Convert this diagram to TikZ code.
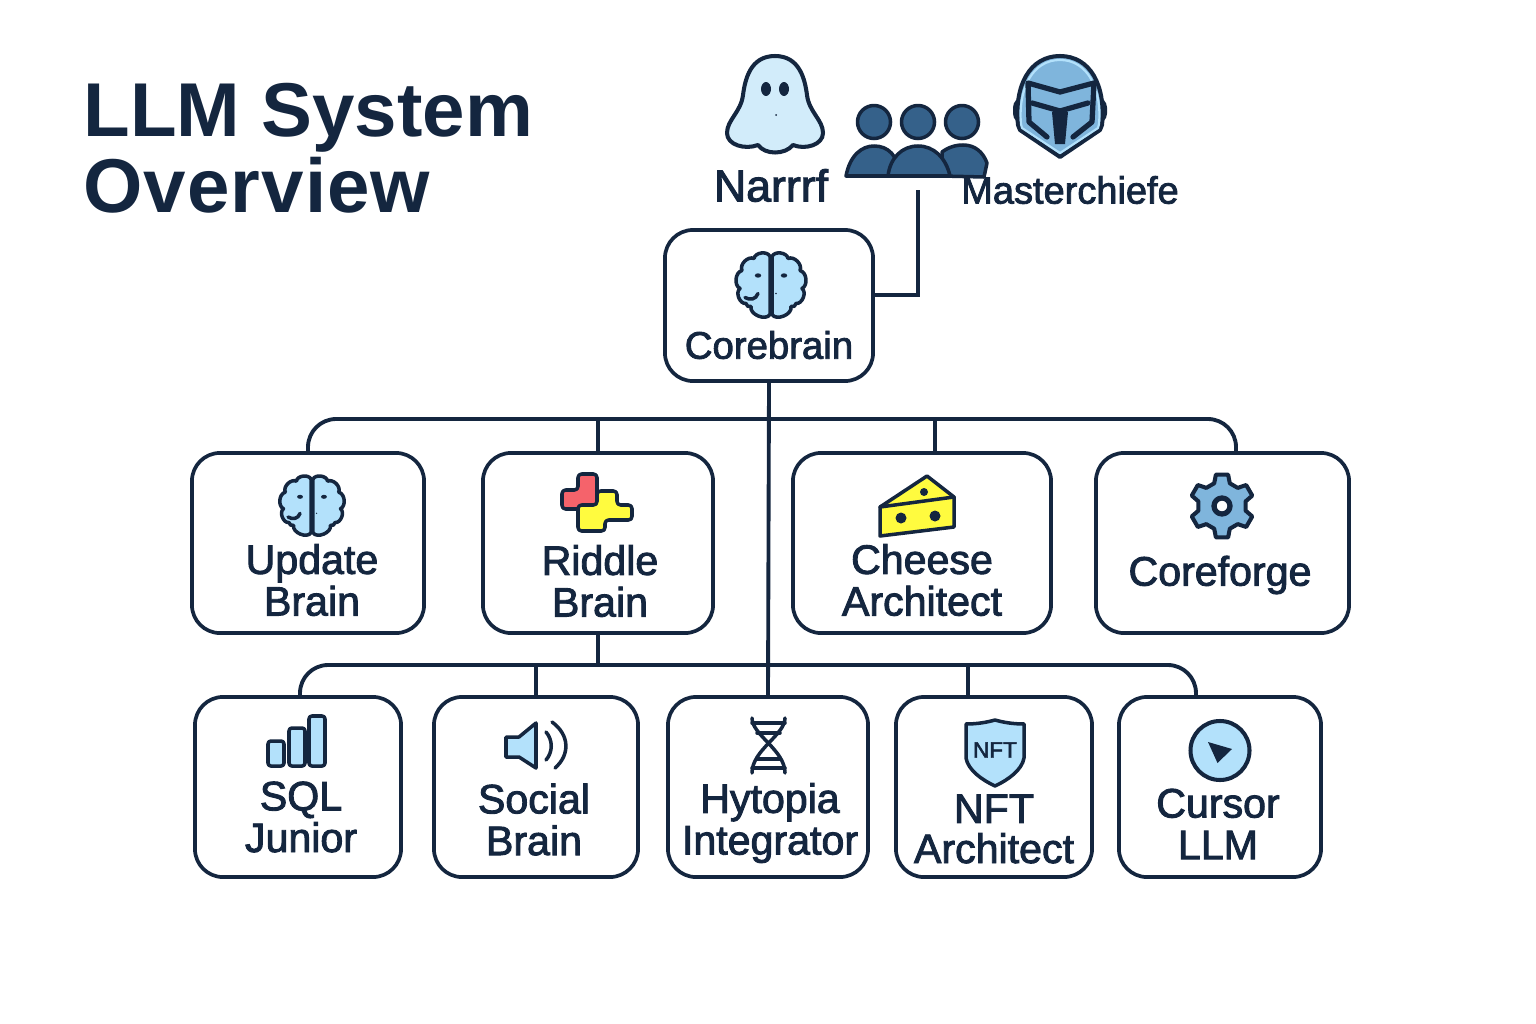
\documentclass[tikz,border=0pt]{standalone}
\usepackage{fontspec}
\setmainfont{Liberation Sans}
\newfontfamily\labelfont[FakeBold=2.2]{Liberation Sans}
\definecolor{navy}{HTML}{14263F}
\definecolor{skyfill}{HTML}{B3E1FB}
\definecolor{ghostfill}{HTML}{D2ECFA}
\definecolor{steelfill}{HTML}{7FB5DC}
\definecolor{teamfill}{HTML}{35618A}
\definecolor{cheesefill}{HTML}{FFFB3F}
\definecolor{puzzlefill}{HTML}{F5636B}
\newcommand{\brainhalf}{
    \draw[icon, fill=skyfill] (-1,-29) to[bend right=75] (-17,-27) to[bend right=70] (-29,-15) to[bend right=70] (-31,3)
        to[bend right=75] (-25,18) to[bend right=60] (-20,21) to[bend right=80] (-1,29) -- cycle;
    \fill[navy] (-13,-10) ellipse [x radius=3.2, y radius=2.2];
}
\tikzset{
    card/.style={draw=navy, line width=1.05pt, rounded corners=8pt, inner sep=0pt},
    cardtext/.style={text=navy, align=center, inner sep=0pt, font=\labelfont\fontsize{11.7}{11.85}\selectfont},
    wire/.style={draw=navy, line width=1.1pt},
    icon/.style={draw=navy, line width=1pt, line join=round, line cap=round},
    brainicon/.pic={
        \brainhalf
        \draw[icon] (-26,12) .. controls (-21,15) and (-15,14) .. (-13,8);
        \begin{scope}[xscale=-1]
            \brainhalf
        \end{scope}
        \fill[navy] (-5,-1) ++(10,9) circle (0.8);
    }
}

\begin{document}
\begin{tikzpicture}[x=0.01cm, y=-0.01cm]
    \useasboundingbox (0,0) rectangle (1536,1024);

    % Title
    \node[anchor=west, align=left, text=navy, inner sep=0pt, font=\bfseries\fontsize{21.7}{21.6}\selectfont] (title) at (83,148) {LLM System\\\addfontfeature{LetterSpace=1.3}Overview};

    % Cards
    \node[card, minimum width=2.08cm, minimum height=1.51cm] (corebrain) at (769,305.5) {};
    \node[card, minimum width=2.32cm, minimum height=1.80cm] (update) at (308,543) {};
    \node[card, minimum width=2.30cm, minimum height=1.80cm] (riddle) at (598,543) {};
    \node[card, minimum width=2.58cm, minimum height=1.80cm] (cheese) at (922,543) {};
    \node[card, minimum width=2.53cm, minimum height=1.80cm] (coreforge) at (1222.5,543) {};
    \node[card, minimum width=2.06cm, minimum height=1.80cm] (sql) at (298,787) {};
    \node[card, minimum width=2.04cm, minimum height=1.80cm] (social) at (536,787) {};
    \node[card, minimum width=2.00cm, minimum height=1.80cm] (hytopia) at (768,787) {};
    \node[card, minimum width=1.96cm, minimum height=1.80cm] (nft) at (994,787) {};
    \node[card, minimum width=2.02cm, minimum height=1.80cm] (cursor) at (1220,787) {};

    % Card labels
    \node[cardtext, font=\labelfont\fontsize{10.9}{11.95}\selectfont] (corebrainlabel) at (769,345) {Corebrain};
    \node[cardtext] (updatelabel) at (312,580) {Update\\Brain};
    \node[cardtext] (riddlelabel) at (600,581) {Riddle\\Brain};
    \node[cardtext] (cheeselabel) at (922,580) {Cheese\\Architect};
    \node[cardtext] (coreforgelabel) at (1220,575) {Coreforge};
    \node[cardtext] (sqllabel) at (301,817) {SQL\\Junior};
    \node[cardtext] (sociallabel) at (534,819.5) {Social\\Brain};
    \node[cardtext] (hytopialabel) at (770,823) {Hytopia\\Integrator};
    \node[cardtext, font=\labelfont\fontsize{11.7}{11.4}\selectfont] (nftlabel) at (994,829) {NFT\\Architect};
    \node[cardtext] (cursorlabel) at (1218,824) {Cursor\\LLM};

    % Connectors
    \coordinate (teamdrop) at (918,190);
    \coordinate (topbus) at (769,419);
    \coordinate (lowbus) at (769,665);
    \draw[wire] ([yshift=0.105cm]corebrain.east) -| (teamdrop);
    \draw[wire] (corebrain.south) -- (hytopia.north);
    \draw[wire, rounded corners=8pt] (update.north) |- (topbus) -| ([xshift=0.135cm]coreforge.north);
    \draw[wire] (riddle.north) -- (riddle.north |- topbus);
    \draw[wire] ([xshift=0.13cm]cheese.north) -- ([xshift=0.13cm]cheese.north |- topbus);
    \draw[wire] (riddle.south) -- (riddle.south |- lowbus);
    \draw[wire, rounded corners=8pt] ([xshift=0.02cm]sql.north) |- (lowbus) -| ([xshift=-0.24cm]cursor.north);
    \draw[wire] (social.north) -- (social.north |- lowbus);
    \draw[wire] ([xshift=-0.26cm]nft.north) -- ([xshift=-0.26cm]nft.north |- lowbus);

    % Ghost
    \draw[icon, line width=1.15pt, fill=ghostfill] (775,56) .. controls (750,56) and (745,80) .. (743,95) .. controls (741,112) and (727,120) .. (727,133)
        .. controls (727,145) and (745,150) .. (758,145) .. controls (765,155) and (785,155) .. (793,145)
        .. controls (805,150) and (823,145) .. (823,133) .. controls (823,120) and (809,112) .. (807,95) .. controls (805,80) and (800,56) .. (775,56) -- cycle;
    \fill[navy] (766,89) ellipse [x radius=5, y radius=7];
    \fill[navy] (784,89) ellipse [x radius=5, y radius=7];
    \fill[navy] (776,115) circle (1);
    \node[text=navy, inner sep=0pt, font=\labelfont\fontsize{12.7}{14}\selectfont] (narrrf) at (771,185.5) {Narrrf};

    % Team
    \foreach \x in {874,918,962}
        \draw[icon, fill=teamfill] (\x,122) circle (16.5);
    \draw[icon, fill=teamfill] (846,176) .. controls (850,155) and (862,146) .. (874,146) .. controls (888,146) and (898,155) .. (900,176) -- cycle;
    \draw[icon, fill=teamfill] (942,176) -- (942,152) .. controls (950,146) and (958,145) .. (963,145) .. controls (975,145) and (983,152) .. (987,163) -- (984,177) -- cycle;
    \draw[icon, fill=teamfill] (888,176) .. controls (890,158) and (902,146) .. (918,146) .. controls (934,146) and (946,158) .. (950,176) -- cycle;

    % Helmet
    \fill[navy, rounded corners=3pt] (1013,97) rectangle (1107,124);
    \draw[icon, line width=1.15pt, fill=steelfill] (1018,125) .. controls (1014,85) and (1030,56) .. (1060,56) .. controls (1090,56) and (1106,85) .. (1102,125) -- (1100,130) -- (1060,157) -- (1020,130) -- cycle;
    \draw[skyfill, line width=0.6pt, line join=round] (1021,124) .. controls (1018,88) and (1033,60) .. (1060,60) .. controls (1087,60) and (1102,88) .. (1099,124) -- (1098,128) -- (1060,153) -- (1022,128) -- cycle;
    \draw[icon, line width=1.5pt] (1047,137) -- (1029,122) -- (1028,83) -- (1060,92) -- (1094,83) -- (1092,122) -- (1073,137);
    \draw[icon, line width=1.5pt] (1032,103) -- (1060,111) -- (1088,103);
    \fill[navy] (1052,112) -- (1068,112) -- (1065,144) -- (1055,144) -- cycle;

    \node[text=navy, inner sep=0pt, font=\labelfont\fontsize{10.8}{14}\selectfont] (masterchiefe) at (1070,190) {Masterchiefe};

    % Brains
    \pic at (771,285.5) {brainicon};
    \pic[scale=0.92] at (312,506) {brainicon};

    % Puzzle
    \draw[icon, fill=puzzlefill, rounded corners=1pt] (578,474) -- (597,474) -- (597,509) -- (562,509) -- (562,490) -- (578,490) -- cycle;
    \draw[icon, fill=cheesefill, rounded corners=1pt] (578,505) -- (597,505) -- (597,491) -- (617,491) -- (617,505) -- (632,505) -- (632,520) -- (605,520) -- (605,531) -- (578,531) -- cycle;

    % Cheese
    \draw[icon, fill=cheesefill] (880,507) -- (927,476) -- (954,497) -- (954,527) -- (880,536) -- cycle;
    \draw[icon] (880,507) -- (954,497);
    \fill[navy] (924,492) circle (4);
    \fill[navy] (901,518) circle (5.5);
    \fill[navy] (935,516) circle (5.5);

    % Gear
    \begin{scope}[shift={(1222,506)}]
        \draw[icon, line width=1.15pt, fill=steelfill] (79:32) \foreach \a in {90,150,...,390} {-- (\a-11:32) -- (\a+11:32) -- (\a+19:24) -- (\a+41:24)} -- cycle;
    \end{scope}
    \draw[icon, line width=1.5pt, fill=white] (1222,506) circle (8);

    % Bars
    \draw[icon, fill=skyfill, rounded corners=0.8pt] (268,741) rectangle (284,766);
    \draw[icon, fill=skyfill, rounded corners=0.8pt] (289,728) rectangle (305,766);
    \draw[icon, fill=skyfill, rounded corners=0.8pt] (309,716) rectangle (325,766);

    % Speaker
    \draw[icon, fill=skyfill] (506,737) -- (519,737) -- (536,723) -- (536,768) -- (519,757) -- (506,757) -- cycle;
    \draw[icon] (546,732) .. controls (553,740) and (553,752) .. (546,760);
    \draw[icon] (552,722) .. controls (570,735) and (570,755) .. (555,768);

    % Helix
    \draw[icon] (752,718) .. controls (752,735) and (785,750) .. (785,773);
    \draw[icon] (785,718) .. controls (785,735) and (752,750) .. (752,773);
    \draw[icon] (752,723) -- (785,723);
    \draw[icon] (757,733) -- (780,733);
    \draw[icon] (757,759) -- (780,759);
    \draw[icon] (752,768) -- (785,768);

    % Shield
    \draw[icon, fill=skyfill] (966,724) .. controls (978,724) and (988,722) .. (995,720) .. controls (1002,722) and (1012,724) .. (1024,724) -- (1024,758) .. controls (1022,770) and (1008,780) .. (995,786) .. controls (982,780) and (968,770) .. (966,758) -- cycle;
    \node[text=navy, inner sep=0pt, font=\labelfont\fontsize{6.4}{8}\selectfont] (shieldtext) at (995,750) {NFT};

    % Cursor
    \draw[icon, line width=1.15pt, fill=skyfill] (1220,750.5) circle (29.5);
    \fill[navy, line join=round] (1208,742) -- (1232,749) -- (1217.5,763) -- cycle;
\end{tikzpicture}
\end{document}
